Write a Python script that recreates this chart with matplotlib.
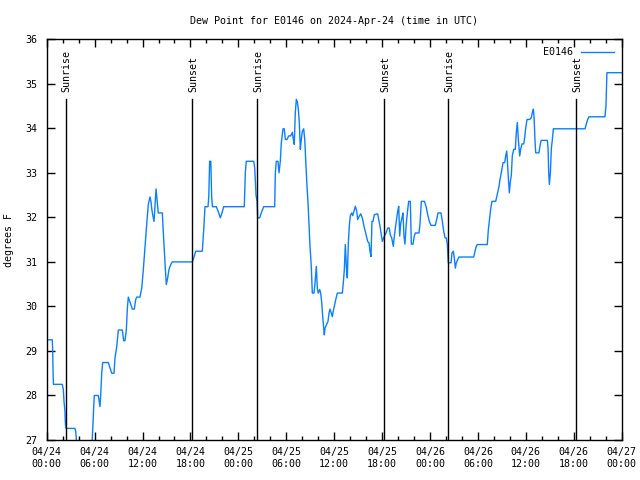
import matplotlib
matplotlib.use("Agg")
import matplotlib.pyplot as plt
from matplotlib.ticker import MultipleLocator

plt.rcParams['font.family'] = ['DejaVu Sans Mono']

title = "Dew Point for E0146 on 2024-Apr-24 (time in UTC)"
ylabel = "degrees F"
series_name = "E0146"

# hours since 2024-04-24 00:00 UTC
hours = [
    0.0, 0.7, 0.75, 0.8, 0.85, 1.95, 2.08, 2.17, 2.29, 2.33, 2.42, 3.54, 3.63, 3.76,
    4.5, 5.2, 5.65, 5.76, 5.89, 5.96, 6.46, 6.55, 6.67, 6.76, 6.89, 7.01, 7.71, 7.93,
    8.14, 8.43, 8.55, 8.77, 8.97, 9.47, 9.64, 9.80, 9.97, 10.1, 10.22,
    10.43, 10.72, 10.97, 11.14, 11.27, 11.68, 11.9, 12.1, 12.31, 12.52, 12.72, 12.94,
    13.06, 13.15, 13.27, 13.44, 13.56, 13.69, 13.81, 13.97, 14.48, 14.56, 14.73, 14.86,
    14.98, 15.15, 15.31, 15.53, 15.73, 18.23, 18.41, 18.66, 19.48, 19.66, 19.82, 20.2,
    20.3, 20.4, 20.55, 20.65, 20.75,
    21.24, 21.54, 21.74, 21.95, 22.16, 24.74, 24.87, 24.99, 25.92, 26.05, 26.21, 26.34,
    26.42, 26.67, 26.87, 27.17, 28.55, 28.63, 28.75, 28.96, 29.09, 29.25, 29.38, 29.59,
    29.75, 29.88, 30.09, 30.3, 30.55,
    30.76, 30.88, 31.0, 31.13, 31.26, 31.38, 31.51, 31.63, 31.76, 31.88, 32.01, 32.18,
    32.31, 32.43, 32.56, 32.72, 32.85, 32.97, 33.13, 33.26, 33.47, 33.6, 33.76, 33.89,
    34.01, 34.18, 34.31, 34.44, 34.56, 34.69, 34.76, 34.85, 35.01, 35.22, 35.35, 35.47,
    35.64, 35.76, 35.89, 36.01, 36.19, 36.39, 37.02, 37.14, 37.27, 37.39, 37.52, 37.64,
    37.77, 37.89, 38.02, 38.19, 38.32, 38.48, 38.64, 38.82, 38.94, 39.11, 39.32, 39.52,
    39.73, 39.94, 40.19, 40.36, 40.48, 40.61, 40.73, 40.86,
    41.02, 41.45, 41.57, 41.74, 41.86, 42.03, 42.28, 42.49, 42.7, 42.9, 43.03, 43.2,
    43.4, 43.53, 43.74, 43.95, 44.08, 44.2, 44.33, 44.49, 44.61, 44.74, 44.86, 45.03,
    45.2, 45.33, 45.53, 45.66, 45.87, 46.03, 46.16, 46.62, 46.75, 46.91, 47.29, 47.5,
    47.71, 47.91, 48.12, 48.66, 48.83, 49.0, 49.37, 49.54, 49.71, 49.88, 50.04, 50.17,
    50.29, 50.46, 50.63, 50.75, 50.92, 51.04,
    51.17, 51.29, 51.46, 51.63, 53.47, 53.63, 53.79, 53.92, 55.17, 55.3, 55.47, 55.6,
    55.76, 56.22, 56.35, 56.51, 56.64, 56.76, 56.92, 57.14, 57.35, 57.47, 57.6, 57.68,
    57.8, 57.93, 58.05, 58.18, 58.3, 58.48, 58.68, 58.8, 58.93, 59.06, 59.23, 59.35,
    59.52, 59.73, 59.86, 59.98, 60.15, 60.48, 60.68, 60.81, 60.94, 61.03, 61.15, 61.23,
    61.64, 61.77, 61.9, 62.69, 62.78, 62.86, 62.94, 63.07, 63.19, 63.32, 63.44, 67.41,
    67.57, 67.74, 67.9, 69.9, 70.03, 70.15, 72.0,
]
dewpoint = [
    29.25, 29.25, 28.99, 28.5, 28.25, 28.25, 28.13, 27.86, 27.64, 27.39, 27.26, 27.26, 27.2, 26.9,
    26.7, 26.7, 26.8, 27.26, 27.75, 28.0, 28.0, 27.9, 27.75, 28.0, 28.5, 28.74, 28.74, 28.62,
    28.5, 28.5, 28.84, 29.1, 29.47, 29.47, 29.23, 29.23, 29.47, 29.96, 30.21,
    30.1, 29.94, 29.94, 30.15, 30.21, 30.21, 30.41, 30.83, 31.35, 31.84, 32.29, 32.46,
    32.35, 32.2, 32.06, 31.91, 32.25, 32.64, 32.4, 32.1, 32.1, 31.8, 31.24, 30.83,
    30.49, 30.64, 30.83, 30.94, 31.0, 31.0, 31.09, 31.24, 31.24, 31.72, 32.24, 32.24,
    32.49, 33.26, 33.26, 32.49, 32.24,
    32.24, 32.1, 31.99, 32.1, 32.24, 32.24, 33.0, 33.26, 33.26, 33.11, 32.5, 32.36,
    31.99, 31.99, 32.1, 32.24, 32.24, 33.0, 33.26, 33.26, 33.0, 33.26, 33.68, 33.99,
    33.99, 33.75, 33.75, 33.83, 33.83,
    33.91, 33.75, 33.64, 34.35, 34.65, 34.6, 34.43, 34.13, 33.53, 33.75, 33.93, 33.99,
    33.75, 33.3, 32.81, 32.33, 31.84, 31.35, 30.9, 30.3, 30.3, 30.53, 30.9, 30.4,
    30.3, 30.38, 30.3, 30.08, 29.77, 29.51, 29.36, 29.51, 29.58, 29.66, 29.85, 29.94,
    29.85, 29.77, 29.9, 30.0, 30.15, 30.3, 30.3, 30.53, 30.83, 31.39, 30.9, 30.64,
    31.43, 31.8, 32.04, 32.1, 32.04, 32.14, 32.25, 32.14, 31.95, 32.02, 32.08, 31.99,
    31.8, 31.65, 31.46, 31.43, 31.24, 31.12, 31.91, 31.91,
    32.06, 32.08, 31.95, 31.8, 31.65, 31.46, 31.58, 31.65, 31.76, 31.76, 31.6, 31.54,
    31.35, 31.58, 31.87, 32.14, 32.25, 31.58, 31.87, 31.99, 32.1, 31.58, 31.4, 31.87,
    32.17, 32.36, 32.36, 31.4, 31.4, 31.58, 31.65, 31.65, 31.87, 32.36, 32.36, 32.25,
    32.06, 31.91, 31.82, 31.82, 31.95, 32.1, 32.1, 31.91, 31.69, 31.54, 31.54, 31.39,
    30.98, 30.98, 30.98, 31.2, 31.24, 31.09,
    30.86, 30.98, 31.05, 31.11, 31.11, 31.24, 31.35, 31.39, 31.39, 31.72, 31.99, 32.2,
    32.36, 32.36, 32.46, 32.59, 32.7, 32.85, 33.0, 33.23, 33.23, 33.38, 33.49, 33.3,
    32.9, 32.55, 32.8, 32.95, 33.38, 33.53, 33.53, 33.9, 34.13, 33.75, 33.38, 33.53,
    33.65, 33.65, 33.8, 34.01, 34.2, 34.2, 34.24, 34.35, 34.43, 34.24, 33.7, 33.45,
    33.45, 33.6, 33.73, 33.73, 33.55, 33.0, 32.74, 33.0, 33.55, 33.75, 33.99, 33.99,
    34.1, 34.2, 34.26, 34.26, 34.5, 35.25, 35.25,
]

sun_events = ["Sunrise", "Sunset", "Sunrise", "Sunset", "Sunrise", "Sunset"]
sun_hours = [2.42, 18.24, 26.37, 42.28, 50.29, 66.32]
sun_line_top = 34.65

tick_hours = [0, 6, 12, 18, 24, 30, 36, 42, 48, 54, 60, 66, 72]
tick_labels = ["04/24\n00:00", "04/24\n06:00", "04/24\n12:00", "04/24\n18:00",
               "04/25\n00:00", "04/25\n06:00", "04/25\n12:00", "04/25\n18:00",
               "04/26\n00:00", "04/26\n06:00", "04/26\n12:00", "04/26\n18:00",
               "04/27\n00:00"]

fig = plt.figure(figsize=(6.4, 4.8), dpi=100)
ax = fig.add_axes([46.7/640, 1-440/480, (621.7-46.7)/640, (440-39.3)/480])

ax.plot(hours, dewpoint, color='#0a80ff', lw=1.0, label=series_name)

for ev, h in zip(sun_events, sun_hours):
    ax.plot([h, h], [27, sun_line_top], color='black', lw=1.0)
    ax.text(h + 0.1, sun_line_top + 0.17, ev, rotation=90, ha='center', va='bottom',
            fontsize=7.2)

ax.set_xlim(0, 72)
ax.set_ylim(27, 36)
ax.set_xticks(tick_hours)
ax.set_xticklabels(tick_labels)
ax.xaxis.set_minor_locator(MultipleLocator(2))
ax.yaxis.set_major_locator(MultipleLocator(1))
ax.tick_params(axis='both', which='both', direction='in', top=True, right=True,
               labelsize=7.2, width=1.0)
ax.tick_params(axis='both', which='major', length=6)
ax.tick_params(axis='both', which='minor', length=3)
ax.tick_params(axis='x', pad=5)
ax.tick_params(axis='y', pad=7)
for sp in ax.spines.values():
    sp.set_linewidth(1.0)

ax.set_title(title, fontsize=7.2, pad=11)
ax.set_ylabel(ylabel, fontsize=7.2, labelpad=8)

leg = ax.legend(loc='upper right', frameon=False, markerfirst=False, fontsize=7.2,
                handlelength=3.3, borderaxespad=0.4, handletextpad=0.8)

fig.savefig("out.png", dpi=100)
